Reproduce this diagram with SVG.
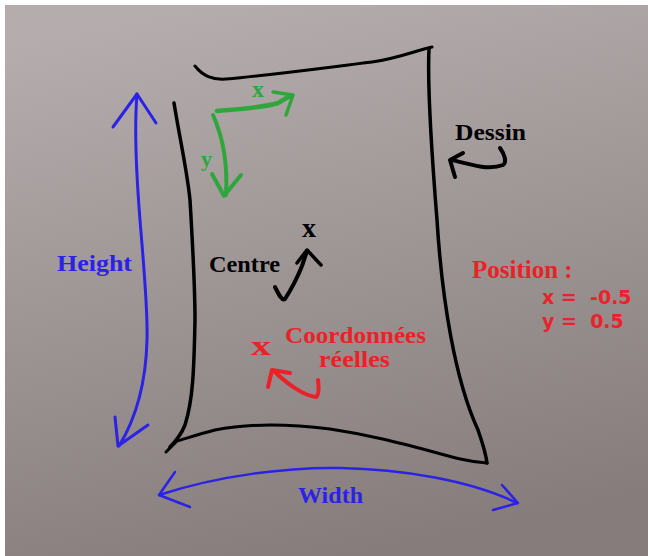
<svg xmlns="http://www.w3.org/2000/svg" width="648" height="556" viewBox="0 0 648 556">
<defs>
<linearGradient id="bg" x1="0.3" y1="0" x2="0.55" y2="1">
<stop offset="0" stop-color="#b5adad"/>
<stop offset="1" stop-color="#857c7b"/>
</linearGradient>
<style>
.lbl{font-family:"Liberation Serif","DejaVu Serif",serif;font-weight:bold;font-size:24px}
.mark{font-family:"Liberation Serif","DejaVu Serif",serif;font-weight:bold;font-size:28px}
.pos{font-family:"DejaVu Sans","Liberation Sans",sans-serif;font-weight:bold;font-size:19px;fill:#e8242a}
.ink{fill:none;stroke-linecap:round;stroke-linejoin:round}
.blk{stroke:#000}
.blue{stroke:#2b22e6}
.grn{stroke:#2ea63c}
.red{stroke:#ea2228}
</style>
</defs>
<rect width="648" height="556" fill="#fff"/>
<rect x="5" y="5" width="643" height="551" fill="url(#bg)"/>

<g id="dessin">
<path class="ink blk" stroke-width="3" d="M195,66 C203,76 212,80 226,79 C280,74 330,67 372,62 C395,59 412,52 428,48 L432,47"/>
<path class="ink blk" stroke-width="3.5" d="M429,49 C427,90 433,170 437,220 C442,300 455,380 478,430 C485,450 486,455 487,463"/>
<path class="ink blk" stroke-width="3" d="M487,463 C470,462 455,458 430,451 C400,443 370,435 330,429 C290,424 250,423 215,430 C195,435 182,440 177,441 L166,452"/>
<path class="ink blk" stroke-width="3.5" d="M174,103 C180,140 187,170 190,200 C193,250 195,290 195,320 C194,370 193,400 185,425 C181,435 177,440 170,447"/>
<text class="lbl" x="455" y="140" fill="#000" textLength="71" lengthAdjust="spacingAndGlyphs">Dessin</text>
</g>

<g id="axes">
<text class="lbl" x="252" y="97" fill="#2ea63c" style="font-size:24px">x</text>
<text class="lbl" x="201" y="166" fill="#2ea63c" style="font-size:22px">y</text>
</g>

<g id="centre">
<text class="mark" x="302" y="237" fill="#000">x</text>
<text class="lbl" x="209" y="272" fill="#000" textLength="71" lengthAdjust="spacingAndGlyphs">Centre</text>
</g>

<g id="reelles">
<text class="mark" x="251" y="355" fill="#ea2228" textLength="20" lengthAdjust="spacingAndGlyphs">x</text>
<text class="lbl" x="285" y="343" fill="#ea2228" textLength="141" lengthAdjust="spacingAndGlyphs">Coordonnées</text>
<text class="lbl" x="319" y="367" fill="#ea2228" textLength="71" lengthAdjust="spacingAndGlyphs">réelles</text>
</g>

<g id="position">
<text class="lbl" x="472" y="278" fill="#ea2228" style="font-size:25px">Position :</text>
<text class="pos" x="542" y="304" xml:space="preserve">x =  -0.5</text>
<text class="pos" x="542" y="328" xml:space="preserve">y =  0.5</text>
</g>

<g id="height">
<text class="lbl" x="57" y="271" fill="#2b22e6" textLength="75" lengthAdjust="spacingAndGlyphs">Height</text>
</g>

<g id="width">
<text class="lbl" x="298" y="503" fill="#2b22e6" textLength="65" lengthAdjust="spacingAndGlyphs">Width</text>
</g>

<g id="connectors">
<!-- height arrow -->
<path class="ink blue" stroke-width="3" d="M137,94 C134,130 136,170 140,220 C144,270 148,310 147,340 C146,380 138,415 119,446"/>
<path class="ink blue" stroke-width="3" d="M113,127 L137,94 L156,123"/>
<path class="ink blue" stroke-width="3" d="M115,417 L118,446 L148,425"/>
<!-- width arrow -->
<path class="ink blue" stroke-width="2.5" d="M159,495 C220,475 290,467 340,468 C400,469 470,480 517,503"/>
<path class="ink blue" stroke-width="2.5" d="M175,472 L159,495 L190,507"/>
<path class="ink blue" stroke-width="2.5" d="M502,485 L518,503 L493,510"/>
<!-- green axes -->
<path class="ink grn" stroke-width="4.5" d="M217,111 C240,109 262,108 278,103 L290,96"/>
<path class="ink grn" stroke-width="3.5" d="M273,92 L293,95 L286,115"/>
<path class="ink grn" stroke-width="4" d="M213,115 C222,135 228,160 226,195"/>
<path class="ink grn" stroke-width="4" d="M212,174 L224,196 L241,175"/>
<!-- centre arrow -->
<path class="ink blk" stroke-width="4" d="M275,287 C279,295 282,301 285,299 C292,288 298,276 302,266 L307,251"/>
<path class="ink blk" stroke-width="3.5" d="M297,263 L307,250 L321,265"/>
<!-- dessin arrow -->
<path class="ink blk" stroke-width="4" d="M500,148 C505,155 507,162 503,165 C490,170 475,166 452,160"/>
<path class="ink blk" stroke-width="4" d="M463,153 L450,160 L455,177"/>
<!-- red arrow -->
<path class="ink red" stroke-width="4" d="M318,380 C319,388 319,395 316,397 C305,396 288,385 274,371"/>
<path class="ink red" stroke-width="4" d="M268,387 L272,370 L290,373"/>
</g>
</svg>
